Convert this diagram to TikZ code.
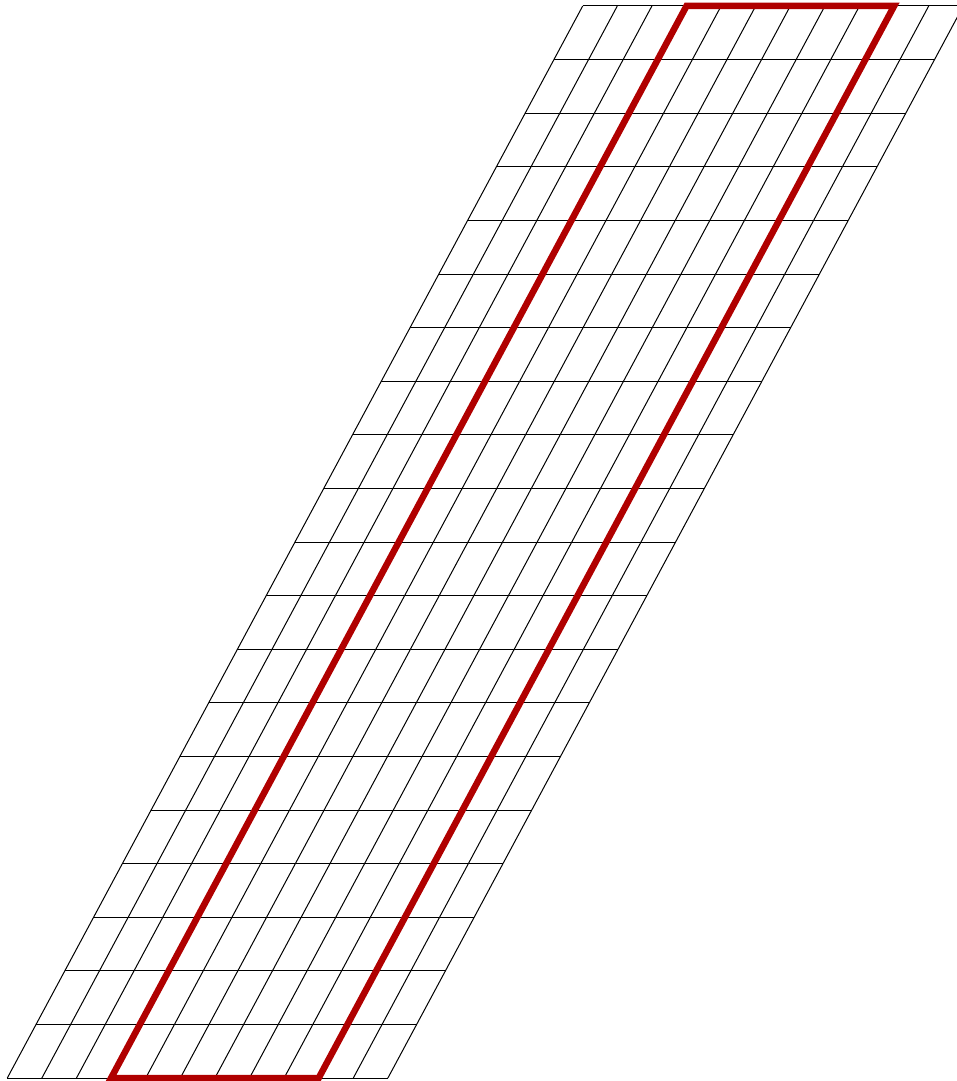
\documentclass[tikz,border=0pt]{standalone}
\usetikzlibrary{calc}
\definecolor{outlinered}{RGB}{176,0,0}
\tikzset{
  gridline/.style={draw=black,line width=1pt},
  redframe/.style={draw=outlinered,line width=6.5pt,line join=miter}
}
\begin{document}
\begin{tikzpicture}[x=1pt,y=-1pt]
\useasboundingbox (0,0) rectangle (957,1081);
\clip (0,0) rectangle (957,1081);
\coordinate (O) at (7.3,1078);
\coordinate (R) at (28.77,-53.6);
\coordinate (C) at (34.6,0);
\foreach \r in {0,...,20}
  \draw[gridline] ($(O)+\r*(R)$) -- ++(380.6,0);
\foreach \c in {0,...,11}
  \draw[gridline] ($(O)+\c*(C)$) -- ++(575.4,-1072);
\coordinate (A) at ($(O)+3*(C)$);
\coordinate (B) at ($(O)+9*(C)$);
\coordinate (Bt) at ($(B)+20*(R)$);
\coordinate (At) at ($(A)+20*(R)$);
\draw[redframe] (A) -- (B) -- (Bt) -- (At) -- cycle;
\end{tikzpicture}
\end{document}
